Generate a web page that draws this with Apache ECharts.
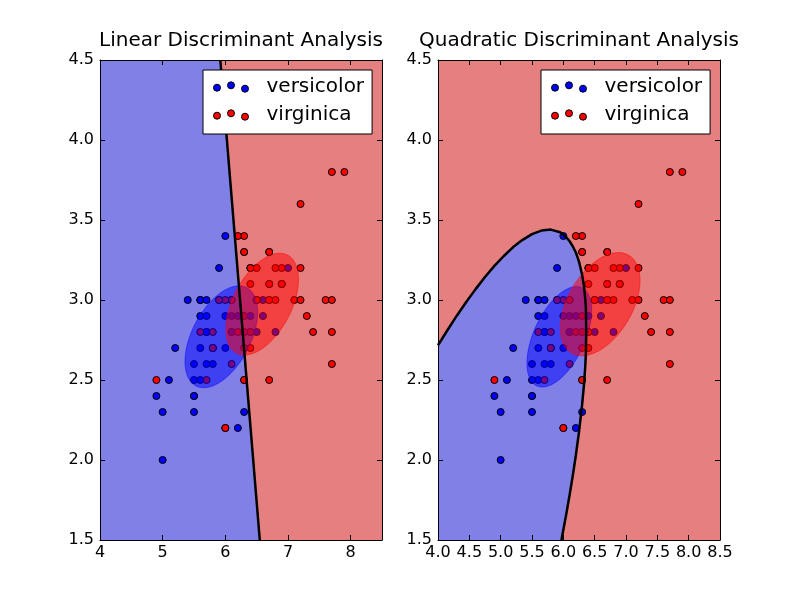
<!DOCTYPE html>
<html><head><meta charset="utf-8">
<script src="https://cdn.jsdelivr.net/npm/echarts@6/dist/echarts.min.js"></script>
<style>html,body{margin:0;padding:0;background:#fff}#c{width:800px;height:600px}</style>
</head><body><div id="c"></div>
<script>
// ---- data (sepal length, sepal width) ----
const versicolor = [[7.0,3.2],[6.4,3.2],[6.9,3.1],[5.5,2.3],[6.5,2.8],[5.7,2.8],[6.3,3.3],[4.9,2.4],[6.6,2.9],[5.2,2.7],[5.0,2.0],[5.9,3.0],[6.0,2.2],[6.1,2.9],[5.6,2.9],[6.7,3.1],[5.6,3.0],[5.8,2.7],[6.2,2.2],[5.6,2.5],[5.9,3.2],[6.1,2.8],[6.3,2.5],[6.1,2.8],[6.4,2.9],[6.6,3.0],[6.8,2.8],[6.7,3.0],[6.0,2.9],[5.7,2.6],[5.5,2.4],[5.5,2.4],[5.8,2.7],[6.0,2.7],[5.4,3.0],[6.0,3.4],[6.7,3.1],[6.3,2.3],[5.6,3.0],[5.5,2.5],[5.5,2.6],[6.1,3.0],[5.8,2.6],[5.0,2.3],[5.6,2.7],[5.7,3.0],[5.7,2.9],[6.2,2.9],[5.1,2.5],[5.7,2.8]];
const virginica = [[6.3,3.3],[5.8,2.7],[7.1,3.0],[6.3,2.9],[6.5,3.0],[7.6,3.0],[4.9,2.5],[7.3,2.9],[6.7,2.5],[7.2,3.6],[6.5,3.2],[6.4,2.7],[6.8,3.0],[5.7,2.5],[5.8,2.8],[6.4,3.2],[6.5,3.0],[7.7,3.8],[7.7,2.6],[6.0,2.2],[6.9,3.2],[5.6,2.8],[7.7,2.8],[6.3,2.7],[6.7,3.3],[7.2,3.2],[6.2,2.8],[6.1,3.0],[6.4,2.8],[7.2,3.0],[7.4,2.8],[7.9,3.8],[6.4,2.8],[6.3,2.8],[6.1,2.6],[7.7,3.0],[6.3,3.4],[6.4,3.1],[6.0,3.0],[6.9,3.1],[6.7,3.1],[6.9,3.1],[5.8,2.7],[6.8,3.2],[6.7,3.3],[6.7,3.0],[6.3,2.5],[6.5,3.0],[6.2,3.4],[5.9,3.0]];

// class means and covariances (for the 1-std ellipses)
const versicolorMean = [5.936, 2.770];
const virginicaMean = [6.588, 2.974];
const versicolorCov = [0.2664, 0.0852, 0.0985];   // [var x, cov xy, var y]
const virginicaCov  = [0.4043, 0.0938, 0.1040];
const pooledCov     = [0.3354, 0.0895, 0.1012];

// decision boundaries
const ldaBoundary = [[5.92,4.5],[6.55,1.5]];
const qdaBoundary = [[4.00,2.717],[4.15,2.811],[4.30,2.902],[4.45,2.988],[4.60,3.068],[4.75,3.144],[4.90,3.213],[5.05,3.275],[5.20,3.331],[5.35,3.376],[5.50,3.412],[5.65,3.434],[5.80,3.440],[5.95,3.423],[6.05,3.391],[6.10,3.367],[6.15,3.336],[6.20,3.297],[6.25,3.240],[6.30,3.158],[6.33,3.086],[6.35,3.006],[6.36,2.946],[6.365,2.805],[6.36,2.664],[6.35,2.586],[6.33,2.472],[6.30,2.346],[6.25,2.175],[6.20,2.030],[6.15,1.901],[6.10,1.781],[6.05,1.669],[6.00,1.562],[5.97,1.50]];

const xRange = [4, 8.5];
const yRange = [1.5, 4.5];
const titles = ['Linear Discriminant Analysis', 'Quadratic Discriminant Analysis'];
const classNames = ['versicolor', 'virginica'];

// ---- styles ----
const FONT = 'DejaVu Sans';
const BLUE_BG = '#8080e6', RED_BG = '#e68080';

function regionPolygon(boundary) {
  const pts = boundary.slice();
  pts.push([xRange[0], yRange[0]]);
  if (boundary[0][1] === yRange[1]) pts.push([xRange[0], yRange[1]]);
  return pts;
}

function regionSeries(g, boundary) {
  const pts = regionPolygon(boundary);
  return {
    type: 'custom', xAxisIndex: g*2, yAxisIndex: g*2, z: 1, silent: true, clip: true,
    data: [[xRange[0], yRange[0]]],
    renderItem: (params, api) => ({
      type: 'polygon',
      shape: { points: pts.map(p => api.coord(p)) },
      style: { fill: BLUE_BG, stroke: null }
    })
  };
}

function ellipseSeries(g, mean, cov, color) {
  const sx = Math.sqrt(cov[0]);
  const l21 = cov[1] / sx;
  const l22 = Math.sqrt(cov[2] - l21*l21);
  return {
    type: 'custom', xAxisIndex: g*2, yAxisIndex: g*2, z: 3, silent: true,
    data: [mean],
    renderItem: (params, api) => {
      const pts = [];
      for (let i = 0; i < 120; i++) {
        const t = i / 120 * Math.PI * 2;
        pts.push(api.coord([mean[0] + sx*Math.cos(t), mean[1] + l21*Math.cos(t) + l22*Math.sin(t)]));
      }
      return { type: 'polygon', shape: { points: pts }, style: { fill: color, stroke: color, lineWidth: 1 } };
    }
  };
}

function scatterSeries(g, name, data, color) {
  return {
    type: 'scatter', name: name, xAxisIndex: g*2, yAxisIndex: g*2, z: 2,
    data: data, symbolSize: 7,
    itemStyle: { color: color, borderColor: '#000', borderWidth: 1, opacity: 1 },
    emphasis: { disabled: true }
  };
}

function boundarySeries(g, data) {
  return {
    type: 'line', xAxisIndex: g*2, yAxisIndex: g*2, z: 4, silent: true,
    data: data, showSymbol: false, symbol: 'none',
    lineStyle: { color: '#000', width: 2.5 }
  };
}

const gridLeft = [100, 438];
const grids = gridLeft.map(l => ({ left: l, top: 60, width: 282, height: 480, show: true, backgroundColor: RED_BG, borderWidth: 0 }));

const labelStyle = { color: '#000', fontFamily: FONT, fontSize: 16 };
function xAxisPair(g, interval, fmt) {
  const base = { type: 'value', gridIndex: g, min: xRange[0], max: xRange[1], interval: interval, z: 10,
    axisLine: { show: true, onZero: false, lineStyle: { color: '#000', width: 1 } },
    axisTick: { show: true, inside: true, length: 5, lineStyle: { color: '#000' } },
    splitLine: { show: false } };
  return [
    Object.assign({}, base, { position: 'bottom', axisLabel: Object.assign({ show: true, margin: 5, formatter: fmt, showMaxLabel: true }, labelStyle) }),
    Object.assign({}, base, { position: 'top', axisLabel: { show: false } })
  ];
}
function yAxisPair(g) {
  const base = { type: 'value', gridIndex: g, min: yRange[0], max: yRange[1], interval: 0.5, z: 10,
    axisLine: { show: true, onZero: false, lineStyle: { color: '#000', width: 1 } },
    axisTick: { show: true, inside: true, length: 5, lineStyle: { color: '#000' } },
    splitLine: { show: false } };
  return [
    Object.assign({}, base, { position: 'left', axisLabel: Object.assign({ show: true, margin: 6, formatter: v => v.toFixed(1) }, labelStyle) }),
    Object.assign({}, base, { position: 'right', axisLabel: { show: false } })
  ];
}

const xAxes = [].concat(
  xAxisPair(0, 1, v => (Math.abs(v - Math.round(v)) < 1e-9 ? String(Math.round(v)) : '')),
  xAxisPair(1, 0.5, v => v.toFixed(1))
);
const yAxes = [].concat(yAxisPair(0), yAxisPair(1));

const legendIcon = 'path://M0,5.9a3.5,3.5 0 1,0 7,0a3.5,3.5 0 1,0 -7,0Z M14,3.5a3.5,3.5 0 1,0 7,0a3.5,3.5 0 1,0 -7,0Z M28,6.9a3.5,3.5 0 1,0 7,0a3.5,3.5 0 1,0 -7,0Z';
const legends = gridLeft.map(l => ({
  left: l + 103, top: 70, orient: 'vertical', z: 20,
  data: classNames.map(n => ({ name: n, icon: legendIcon })),
  itemWidth: 35, itemHeight: 10.4, itemGap: 6,
  padding: [6, 8, 8, 10],
  backgroundColor: '#fff', borderColor: '#000', borderWidth: 1, borderRadius: 0,
  itemStyle: { borderColor: '#000', borderWidth: 1 },
  textStyle: { color: '#000', fontFamily: FONT, fontSize: 20, lineHeight: 22, padding: [0, 0, 0, 13] },
  selectedMode: false
}));

const titleOpts = titles.map((t, i) => ({
  text: t, left: gridLeft[i] + 141, top: 31, textAlign: 'center', padding: 0,
  textStyle: { color: '#000', fontFamily: FONT, fontSize: 20, fontWeight: 'normal' }
}));

const series = [
  regionSeries(0, ldaBoundary),
  regionSeries(1, qdaBoundary),
  scatterSeries(0, classNames[0], versicolor, '#0000ff'),
  scatterSeries(0, classNames[1], virginica, '#ff0000'),
  scatterSeries(1, classNames[0], versicolor, '#0000ff'),
  scatterSeries(1, classNames[1], virginica, '#ff0000'),
  ellipseSeries(0, versicolorMean, pooledCov, 'rgba(0,0,255,0.5)'),
  ellipseSeries(0, virginicaMean, pooledCov, 'rgba(255,0,0,0.5)'),
  ellipseSeries(1, versicolorMean, versicolorCov, 'rgba(0,0,255,0.5)'),
  ellipseSeries(1, virginicaMean, virginicaCov, 'rgba(255,0,0,0.5)'),
  boundarySeries(0, ldaBoundary),
  boundarySeries(1, qdaBoundary)
];

const chart = echarts.init(document.getElementById('c'), null, { renderer: 'canvas' });
chart.setOption({
  animation: false,
  backgroundColor: '#fff',
  title: titleOpts,
  legend: legends,
  grid: grids,
  xAxis: xAxes,
  yAxis: yAxes,
  series: series
});
</script>
</body></html>
